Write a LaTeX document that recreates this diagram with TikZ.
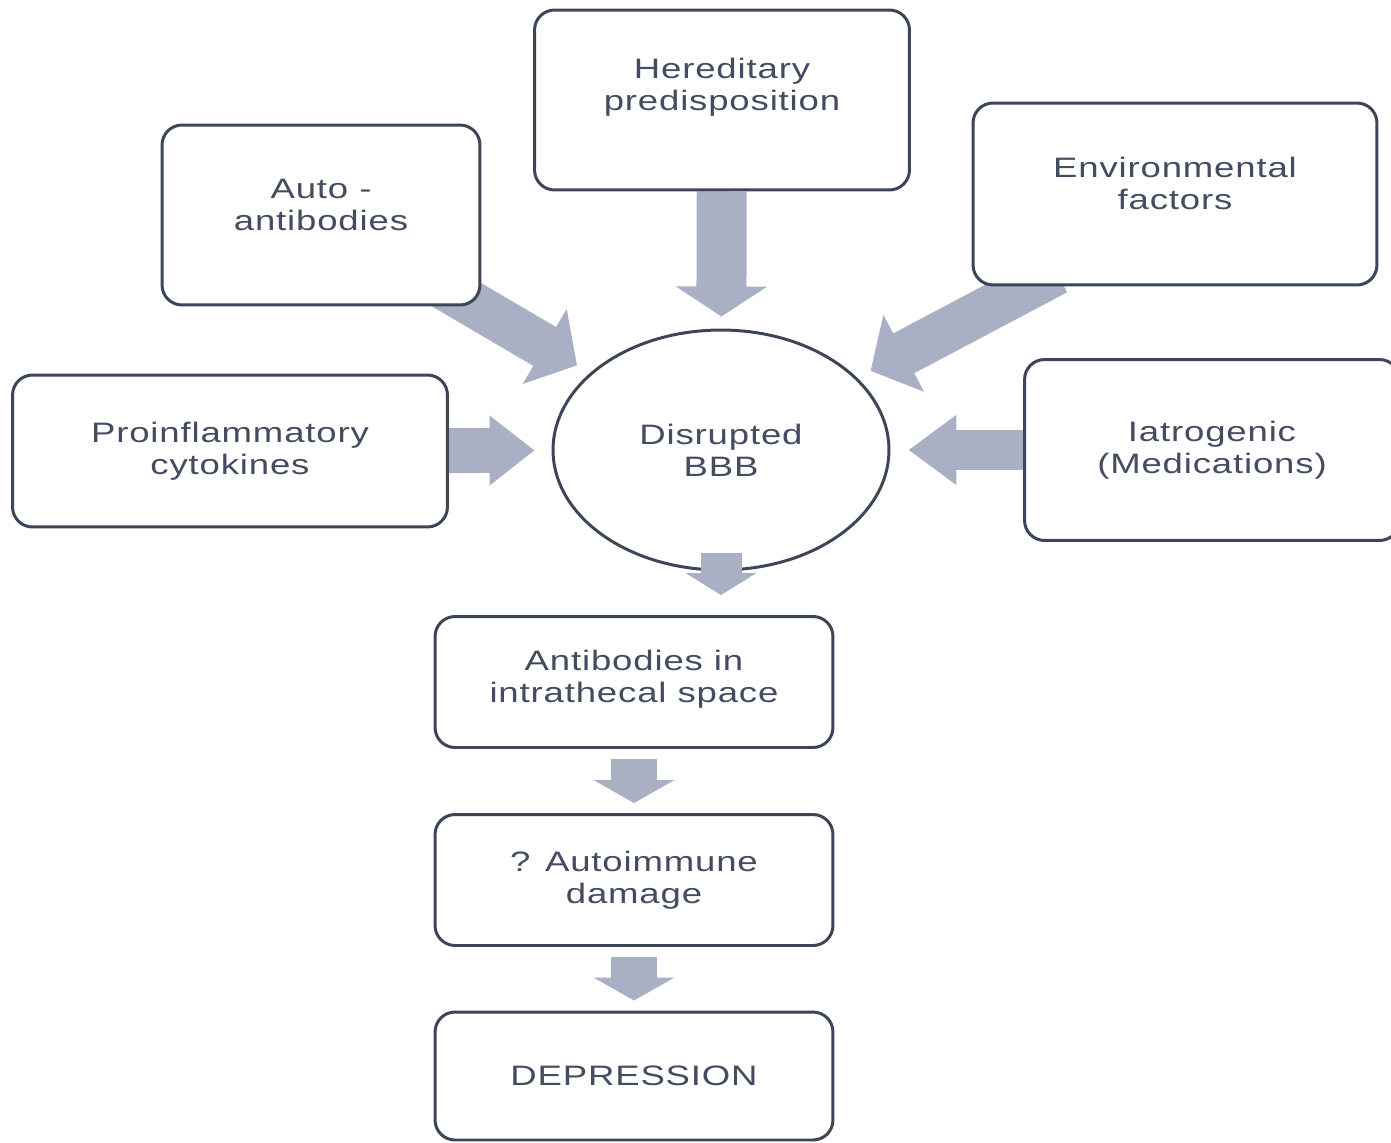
\documentclass[tikz,border=0pt]{standalone}
\usepackage{fontspec}
\newfontfamily\boxfont{Liberation Sans}[FakeStretch=1.3,LetterSpace=3]
\usetikzlibrary{arrows.meta,shapes.geometric,backgrounds}

\definecolor{boxline}{HTML}{3D4657}
\definecolor{boxtext}{HTML}{434C60}
\definecolor{arrowfill}{HTML}{AAB0C4}

\begin{document}
\begin{tikzpicture}[x = 0.02cm, y = -0.02cm,
	factor/.style = {draw = boxline, fill = white, line width = 1.7pt, rounded corners = 0.4cm,
		align = center, text = boxtext, font = \boxfont\fontsize{16}{18}\selectfont},
	lift/.style = {text depth = #1},
	flow/.style n args = {3}{draw = arrowfill, line width = #1,
		-{Triangle[width = #2, length = #3]}}]
	%	canvas
	\useasboundingbox (0, 0) rectangle (1391, 1142);
	
	%	causes
	\node[factor, lift = 0.62cm, minimum width = 7.5cm, minimum height = 3.6cm] (hered) at (722, 100) {Hereditary\\predisposition};
	\node[factor, lift = 0.4cm, minimum width = 6.36cm, minimum height = 3.6cm] (auto) at (321, 215) {Auto -\\antibodies};
	\node[factor, lift = 0.44cm, minimum width = 8.08cm, minimum height = 3.64cm] (env) at (1175, 194) {Environmental\\factors};
	\node[factor, minimum width = 8.7cm, minimum height = 3.04cm] (cyto) at (230, 451) {Proinflammatory\\cytokines};
	\node[factor, minimum width = 7.5cm, minimum height = 3.62cm] (iatro) at (1212, 450) {Iatrogenic\\(Medications)};
	
	%	barrier
	\node[factor, ellipse, inner sep = 0pt, minimum width = 6.72cm, minimum height = 4.8cm] (bbb) at (721, 450) {Disrupted\\BBB};
	
	%	chain
	\node[factor, lift = 0.22cm, minimum width = 7.96cm, minimum height = 2.62cm] (intra) at (634, 682) {Antibodies in\\intrathecal space};
	\node[factor, minimum width = 7.96cm, minimum height = 2.62cm] (damage) at (634, 880) {? Autoimmune\\damage};
	\node[factor, minimum width = 7.96cm, minimum height = 2.56cm] (dep) at (634, 1076) {DEPRESSION};
	
	\begin{scope}[on background layer]
	%	arrows into the barrier
	\draw[flow = {1cm}{1.8cm}{0.6cm}, shorten > = 0.24cm] (hered) -- (bbb);
	\draw[flow = {0.9cm}{1.7cm}{0.75cm}, shorten < = -0.8cm, shorten > = 0.3cm] (auto) -- (bbb);
	\draw[flow = {0.9cm}{1.7cm}{0.75cm}, shorten < = -0.6cm, shorten > = 0.3cm] ([xshift = -2.9cm]env.south) -- (bbb);
	\draw[flow = {0.9cm}{1.34cm}{0.9cm}, shorten > = 0.34cm] (cyto) -- (bbb);
	\draw[flow = {0.8cm}{1.34cm}{0.96cm}, shorten > = 0.36cm] (iatro) -- (bbb);
	\end{scope}
	
	%	arrows down the chain
	\draw[flow = {0.82cm}{1.4cm}{0.44cm}, shorten < = -0.36cm, shorten > = 0.4cm] (bbb.south) -- (bbb.south |- intra.north);
	\draw[flow = {0.92cm}{1.6cm}{0.46cm}, shorten < = 0.2cm, shorten > = 0.2cm] (intra) -- (damage);
	\draw[flow = {0.92cm}{1.6cm}{0.46cm}, shorten < = 0.2cm, shorten > = 0.2cm] (damage) -- (dep);
\end{tikzpicture}
\end{document}
